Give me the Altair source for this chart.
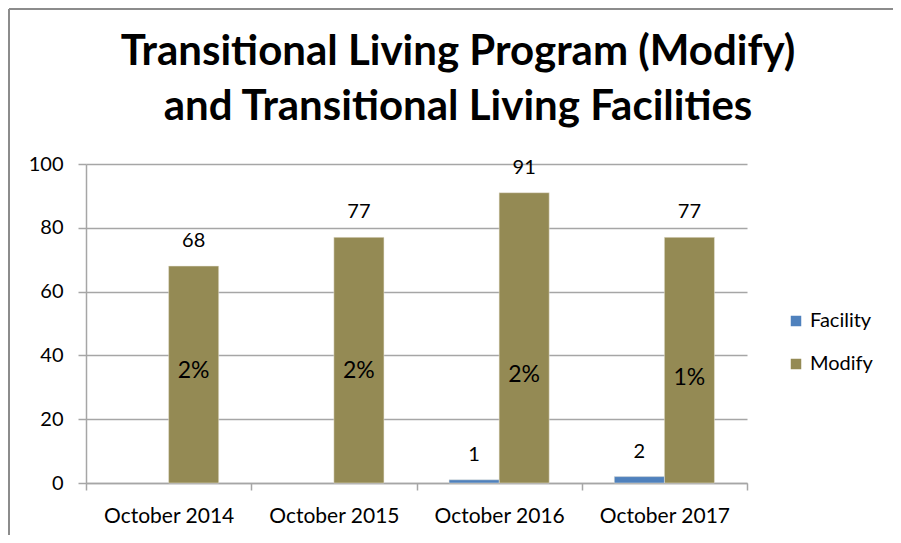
import altair as alt
import pandas as pd

categories = ["October 2014", "October 2015", "October 2016", "October 2017"]
modify_values = [68, 77, 91, 77]
facility_categories = ["October 2016", "October 2017"]
facility_values = [1, 2]
percent_labels = ["2%", "2%", "2%", "1%"]
percent_label_pos = [35, 35, 34, 33]
series = ["Facility", "Modify"]
colors = ["#4F81BD", "#948A54"]
y_ticks = [0, 20, 40, 60, 80, 100]
title_lines = ["Transitional Living Program (Modify)", "and Transitional Living Facilities"]

rows = [{"month": c, "series": "Modify", "value": v} for c, v in zip(categories, modify_values)]
rows += [{"month": c, "series": "Facility", "value": v} for c, v in zip(facility_categories, facility_values)]
df = pd.DataFrame(rows)
pct = pd.DataFrame({"month": categories, "series": ["Modify"] * 4,
                    "label": percent_labels, "pos": percent_label_pos})
title_df = pd.DataFrame({"line": title_lines})

FONT = "Lato"
GRID = "#A6A6A6"

x_enc = alt.X("month:N", sort=categories,
              scale=alt.Scale(domain=categories, paddingInner=0, paddingOuter=0),
              axis=alt.Axis(title=None, labelAngle=0, tickBand="extent", labelFontSize=21,
                            labelColor="#000", labelFont=FONT, domainColor=GRID, tickColor=GRID,
                            tickSize=7, labelPadding=15, grid=False, domainWidth=1.5, tickWidth=1.5))
xo_enc = alt.XOffset("series:N", scale=alt.Scale(domain=series, paddingOuter=0.65, paddingInner=0))
y_axis = alt.Axis(values=y_ticks, title=None, labelFontSize=20, labelFont=FONT, labelColor="#000",
                  domainColor=GRID, tickColor=GRID, gridColor=GRID, gridWidth=1.5, tickSize=8,
                  labelPadding=15, domainWidth=1.5, tickWidth=1.5)
y_scale = alt.Scale(domain=[0, 100], nice=False)

base = alt.Chart(df)

bars = base.mark_bar(stroke="#E8E4D8", strokeWidth=0.5).encode(
    x=x_enc,
    xOffset=xo_enc,
    y=alt.Y("value:Q", scale=y_scale, axis=y_axis),
    color=alt.Color("series:N", scale=alt.Scale(domain=series, range=colors),
                    legend=alt.Legend(title=None, orient="none", legendX=700, legendY=147,
                                      symbolType="square", symbolSize=110, labelFontSize=20,
                                      labelFont=FONT, labelColor="#000", rowPadding=23,
                                      symbolStrokeWidth=0)),
)

value_labels = base.mark_text(dy=-25, fontSize=20, font=FONT, color="#000", baseline="middle").encode(
    x=alt.X("month:N", sort=categories),
    xOffset=alt.XOffset("series:N"),
    y=alt.Y("value:Q"),
    text=alt.Text("value:Q"),
)

pct_labels = alt.Chart(pct).mark_text(fontSize=23, font=FONT, color="#000", baseline="middle").encode(
    x=alt.X("month:N", sort=categories),
    xOffset=alt.XOffset("series:N"),
    y=alt.Y("pos:Q"),
    text=alt.Text("label:N"),
)

title_mark = alt.Chart(title_df).mark_text(
    fontSize=42, font=FONT, fontWeight="bold", color="#000", baseline="alphabetic",
    align="center"
).encode(
    x=alt.value(372),
    y=alt.value(-99),
    text=alt.Text("line:N"),
).transform_filter(alt.datum.line == title_lines[0])

title_mark2 = alt.Chart(title_df).mark_text(
    fontSize=42, font=FONT, fontWeight="bold", color="#000", baseline="alphabetic",
    align="center"
).encode(
    x=alt.value(372),
    y=alt.value(-44),
    text=alt.Text("line:N"),
).transform_filter(alt.datum.line == title_lines[1])

border_left = alt.Chart(pct).mark_rule(color="#8C8C8C", strokeWidth=2).encode(
    x=alt.value(-77), y=alt.value(-155), y2=alt.value(371))
border_top = alt.Chart(pct).mark_rule(color="#8C8C8C", strokeWidth=2).encode(
    x=alt.value(-77), x2=alt.value(810), y=alt.value(-155))

chart = alt.layer(bars, value_labels, pct_labels, title_mark, title_mark2,
                  border_left, border_top).properties(
    width=661, height=319,
    autosize=alt.AutoSizeParams(type="none"),
    padding={"left": 78, "top": 156, "right": 146, "bottom": 52},
).configure_view(stroke=None)

chart.save("out.html", embed_options={"renderer": "svg", "actions": False})
